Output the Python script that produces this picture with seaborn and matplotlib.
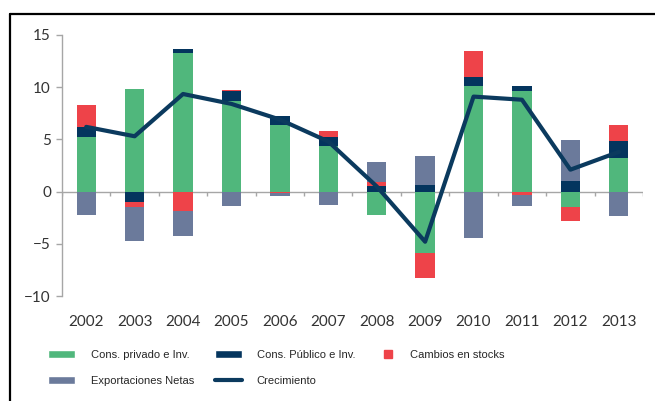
import numpy as np
import pandas as pd
import matplotlib
matplotlib.use("Agg")
import matplotlib.pyplot as plt
import seaborn as sns
from matplotlib.patches import Patch
from matplotlib.lines import Line2D

years = ["2002", "2003", "2004", "2005", "2006", "2007",
         "2008", "2009", "2010", "2011", "2012", "2013"]
cons_privado = [5.25, 9.85, 13.3, 8.7, 6.4, 4.4, -2.2, -5.9, 10.1, 9.65, -1.45, 3.2]
cons_publico = [0.95, -0.95, 0.35, 0.95, 0.8, 0.8, 0.55, 0.65, 0.9, 0.45, 0.98, 1.6]
stocks = [2.1, -0.5, -1.9, 0.1, -0.1, 0.6, 0.4, -2.4, 2.5, -0.3, -1.4, 1.6]
export_netas = [-2.2, -3.25, -2.4, -1.35, -0.3, -1.25, 1.85, 2.8, -4.4, -1.1, 4.0, -2.35]
crecimiento = [6.2, 5.3, 9.35, 8.4, 6.9, 4.8, 0.5, -4.8, 9.1, 8.8, 2.1, 3.8]

labels = ["Cons. privado e Inv.", "Cons. Público e Inv.",
          "Cambios en stocks", "Exportaciones Netas"]
colors = ["#50B77C", "#04355E", "#EE4349", "#6B7A9B"]
line_color = "#0B3A5E"

sns.set_style("white")
plt.rcParams["font.family"] = ["Lato", "DejaVu Sans"]

fig = plt.figure(figsize=(6.55, 4.01), dpi=100)
ax = fig.add_axes([62 / 655, 1 - 296 / 401, (643 - 62) / 655, (296 - 35) / 401])

comp = np.array([cons_privado, cons_publico, stocks, export_netas])
pos_cum = np.cumsum(np.clip(comp, 0, None), axis=0)
neg_cum = np.cumsum(np.clip(comp, None, 0), axis=0)

# draw stacks back-to-front so lower segments cover the cumulative totals
for k in range(len(labels) - 1, -1, -1):
    for cum in (pos_cum, neg_cum):
        df = pd.DataFrame({"year": years, "value": cum[k]})
        sns.barplot(data=df, x="year", y="value", color=colors[k],
                    saturation=1, width=0.4, linewidth=0, ax=ax)

sns.lineplot(x=np.arange(len(years)), y=crecimiento, color=line_color,
             linewidth=3.0, ax=ax)

ax.set_xlim(-0.5, len(years) - 0.5)
ax.set_ylim(-10, 15)
ax.set_yticks([-10, -5, 0, 5, 10, 15])
ax.set_xlabel("")
ax.set_ylabel("")
ax.axhline(0, color="#A6A6A6", linewidth=1.0, zorder=0.5)
ax.vlines(np.arange(len(years) + 1) - 0.5, -0.45, 0, color="#A6A6A6",
          linewidth=1.0, zorder=0.5)

for side in ["top", "right", "bottom"]:
    ax.spines[side].set_visible(False)
ax.spines["left"].set_color("#A6A6A6")
ax.spines["left"].set_linewidth(1.0)
ax.tick_params(axis="y", length=4, color="#A6A6A6", width=1.0, left=True,
               labelsize=11, labelcolor="#333333", pad=4)
ax.tick_params(axis="x", length=0, labelsize=11, labelcolor="#333333", pad=14)

# legend: three single-column blocks placed under the chart
leg_font = {"family": "Liberation Sans", "size": 8}
blocks = [
    (48, [Patch(facecolor=colors[0], label=labels[0]),
          Patch(facecolor=colors[3], label=labels[3])], 2.4, 1.5),
    (215, [Patch(facecolor=colors[1], label=labels[1]),
           Line2D([0], [0], color=line_color, linewidth=3, label="Crecimiento")], 2.4, 1.35),
    (384, [Line2D([0], [0], color=colors[2], marker="s", linestyle="none",
                  markersize=6, label=labels[2])], 0.8, 1.5),
]
for x0, hs, hl, tp in blocks:
    leg = fig.legend(handles=hs, ncol=1, loc="upper left",
                     bbox_to_anchor=(x0 / 655, 1 - 350 / 401), frameon=False,
                     prop=leg_font, handlelength=hl, handleheight=0.7,
                     handletextpad=tp, labelspacing=1.45,
                     borderpad=0, borderaxespad=0)

# outer frame (cropped at right and bottom)
fig.add_artist(Line2D([10 / 655, 1], [1 - 14 / 401, 1 - 14 / 401],
                      color="black", linewidth=1.6, transform=fig.transFigure))
fig.add_artist(Line2D([10 / 655, 10 / 655], [0, 1 - 14 / 401],
                      color="black", linewidth=1.6, transform=fig.transFigure))

fig.savefig("out.png", dpi=100)
